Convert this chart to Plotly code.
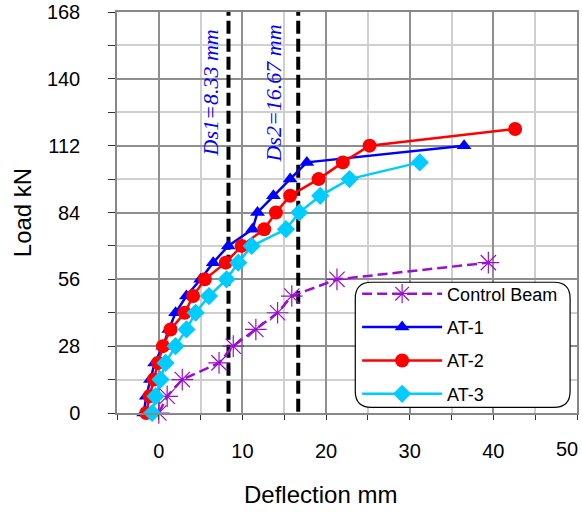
import plotly.graph_objects as go

# Load steps (kN) and mid-span deflections (mm) for each beam
control_load = [0, 7, 14, 21, 28, 35, 42, 49, 56, 63]
control_defl = [0.0, 1.0, 2.8, 7.2, 8.9, 11.6, 14.2, 15.9, 21.3, 39.4]

at1_load = [0, 7, 14, 21, 28, 35, 42, 49, 56, 63, 70, 77, 84, 91, 98, 105, 112]
at1_defl = [-1.8, -1.5, -1.0, -0.5, 0.5, 1.2, 2.0, 3.3, 5.0, 6.5, 8.3, 11.2, 11.8,
            13.7, 15.7, 17.7, 36.5]

at2_load = [0, 7, 14, 21, 28, 35, 42, 49, 56, 63, 70, 77, 84, 91, 98, 105, 112, 119]
at2_defl = [-1.5, -1.1, -0.6, -0.1, 0.5, 1.4, 3.1, 4.1, 5.5, 8.0, 9.9, 12.6, 14.0,
            15.7, 19.1, 22.0, 25.2, 42.6]

at3_load = [0, 7, 14, 21, 28, 35, 42, 49, 56, 63, 70, 77, 84, 91, 98, 105]
at3_defl = [-0.8, -0.4, 0.2, 0.8, 2.0, 3.3, 4.4, 6.0, 8.1, 9.5, 11.1, 15.2, 16.8,
            19.3, 22.8, 31.2]

# Serviceability deflection limits (mm)
ds_values = [8.33, 16.67]
ds_labels = ["Ds1=8.33 mm", "Ds2=16.67 mm"]

x_ticks = [0, 10, 20, 30, 40]
x_last_tick = 50
y_ticks = [0, 28, 56, 84, 112, 140, 168]

FONT = "Liberation Sans, Arial, sans-serif"

fig = go.Figure()

fig.add_trace(go.Scatter(
    x=control_defl, y=control_load, name="Control Beam", mode="lines+markers",
    line=dict(color="#9A0FD0", width=2.5, dash="10px,5px"),
    marker=dict(symbol="asterisk-open", size=18,
                line=dict(color="#9A0FD0", width=1.2)),
    legendgroup="g0", cliponaxis=False,
))
fig.add_trace(go.Scatter(
    x=at1_defl, y=at1_load, name="AT-1", mode="lines+markers",
    line=dict(color="#0000FF", width=2.5),
    marker=dict(symbol="triangle-up", size=13, color="#0000FF"),
    legendgroup="g1", cliponaxis=False,
))
fig.add_trace(go.Scatter(
    x=at2_defl, y=at2_load, name="AT-2", mode="lines+markers",
    line=dict(color="#FF0000", width=2.5),
    marker=dict(symbol="circle", size=14, color="#FF0000"),
    legendgroup="g2", cliponaxis=False,
))
fig.add_trace(go.Scatter(
    x=at3_defl, y=at3_load, name="AT-3", mode="lines+markers",
    line=dict(color="#00CCFF", width=2.5),
    marker=dict(symbol="diamond", size=14, color="#00CCFF"),
    legendgroup="g3", cliponaxis=False,
))

# Dashed limit lines with rotated labels
label_x = [6.15, 13.7]
for xv, lx, txt in zip(ds_values, label_x, ds_labels):
    fig.add_shape(type="line", xref="x", yref="y", x0=xv, x1=xv, y0=0.5, y1=168,
                  line=dict(color="black", width=4, dash="13px,5px"), layer="between")
    fig.add_annotation(x=lx, y=134, xref="x", yref="y", text="<i>%s</i>" % txt,
                       textangle=-90, showarrow=False,
                       font=dict(family="Liberation Serif, Times New Roman, serif",
                                 size=22, color="#0000FF"))

# Rounded legend frame
x0, x1, y0, y1, r = 0.518, 0.985, 0.014, 0.326, 0.035
ry = r * 460.3 / 400.8
path = (f"M {x0 + r},{y0} L {x1 - r},{y0} Q {x1},{y0} {x1},{y0 + ry} "
        f"L {x1},{y1 - ry} Q {x1},{y1} {x1 - r},{y1} L {x0 + r},{y1} "
        f"Q {x0},{y1} {x0},{y1 - ry} L {x0},{y0 + ry} Q {x0},{y0} {x0 + r},{y0} Z")
fig.add_shape(type="path", xref="paper", yref="paper", path=path,
              fillcolor="white", line=dict(color="black", width=1.2), layer="above")

# X-axis title
fig.add_annotation(x=0.4417, y=-0.2033, xref="paper", yref="paper",
                   text="Deflection mm", showarrow=False, xanchor="center",
                   yanchor="middle", font=dict(family=FONT, size=24, color="black"))

# Last x tick label, kept inside the page edge
fig.add_annotation(x=1.0, y=-0.0886, xref="paper", yref="paper",
                   text=str(x_last_tick), showarrow=False, xanchor="right",
                   yanchor="middle", xshift=3,
                   font=dict(family=FONT, size=20, color="black"))

axis_common = dict(
    showline=True, linecolor="#888888", linewidth=1.5, mirror=True,
    ticks="outside", tickcolor="#333333", tickwidth=1,
    gridcolor="#8f8f8f", gridwidth=1.6, zeroline=False,
    tickfont=dict(family=FONT, size=20, color="black"),
    automargin=False,
)

fig.update_xaxes(
    range=[-5, 50], tickvals=x_ticks, ticklen=5, ticklabelstandoff=14,
    minor=dict(dtick=5, tick0=0, ticks="outside", ticklen=5, tickcolor="#333333",
               showgrid=True, gridcolor="#cfcfcf", gridwidth=1.5),
    **axis_common,
)
fig.update_yaxes(
    range=[0, 168], tickvals=y_ticks, ticklen=7, ticklabelstandoff=24,
    minor=dict(dtick=14, tick0=0, ticks="outside", ticklen=7, tickcolor="#333333",
               showgrid=True, gridcolor="#cfcfcf", gridwidth=1.5),
    title=dict(text="Load kN", font=dict(family=FONT, size=24, color="black"),
               standoff=8),
    **axis_common,
)

fig.update_layout(
    width=582, height=513,
    margin=dict(l=117, r=5, t=12, b=100),
    paper_bgcolor="white", plot_bgcolor="white",
    showlegend=True,
    legend=dict(x=0.522, y=0.343, xanchor="left", yanchor="top",
                bgcolor="rgba(0,0,0,0)", borderwidth=0,
                font=dict(family=FONT, size=18, color="black"),
                traceorder="grouped", tracegroupgap=7, itemwidth=80),
)

fig.write_html("out.html")
